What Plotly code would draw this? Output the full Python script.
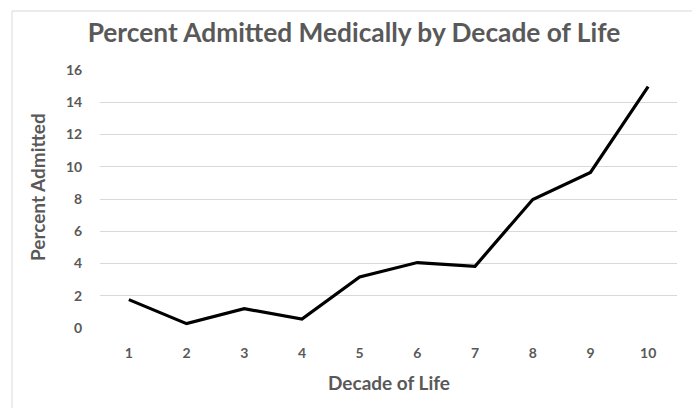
import plotly.graph_objects as go

decades = ["1", "2", "3", "4", "5", "6", "7", "8", "9", "10"]
pct_admitted = [1.76, 0.27, 1.2, 0.56, 3.17, 4.06, 3.83, 7.97, 9.65, 14.97]
y_ticks = [0, 2, 4, 6, 8, 10, 12, 14, 16]

grey = "#595959"
font = "Lato"

fig = go.Figure()
fig.add_trace(go.Scatter(x=decades, y=pct_admitted, mode="lines",
                         line=dict(color="black", width=3.2)))

# outer chart border
fig.add_shape(type="rect", xref="paper", yref="paper",
              x0=-0.1525, x1=1.0277, y0=-0.33, y1=1.2287,
              line=dict(color="#d9d9d9", width=1), fillcolor="rgba(0,0,0,0)")

# axis titles as annotations so they sit where the original has them
fig.add_annotation(text="<b>Decade of Life</b>", xref="paper", yref="paper",
                   x=0.5, y=-0.213, xanchor="center", yanchor="middle",
                   showarrow=False, font=dict(size=19, color=grey, family=font))
fig.add_annotation(text="<b>Percent Admitted</b>", xref="paper", yref="paper",
                   x=-0.108, y=0.545, xanchor="center", yanchor="middle",
                   textangle=-90, showarrow=False,
                   font=dict(size=19, color=grey, family=font))

# page body has an 8px margin, so the figure is a bit smaller than the window
fig.update_layout(
    width=692, height=400,
    margin=dict(l=92, r=23, t=62, b=80),
    paper_bgcolor="white", plot_bgcolor="white",
    showlegend=False,
    font=dict(family=font, color=grey),
    title=dict(text="<b>Percent Admitted Medically by Decade of Life</b>",
               x=0.5, xanchor="center", y=0.937, yanchor="middle",
               font=dict(size=26.3, color=grey, family=font)),
    xaxis=dict(type="category", range=[-0.5, 9.5], automargin=False,
               showgrid=False, zeroline=False,
               showline=False, ticks="outside", ticklen=12,
               tickcolor="rgba(0,0,0,0)",
               tickfont=dict(size=14, color=grey, family=font, weight="bold")),
    yaxis=dict(range=[0, 16], tickvals=y_ticks, automargin=False,
               showgrid=True,
               gridcolor="#d9d9d9", gridwidth=1, zeroline=False,
               showline=False, ticks="outside", ticklen=14,
               tickcolor="rgba(0,0,0,0)",
               tickfont=dict(size=14, color=grey, family=font, weight="bold")),
)

fig.write_html("out.html")
